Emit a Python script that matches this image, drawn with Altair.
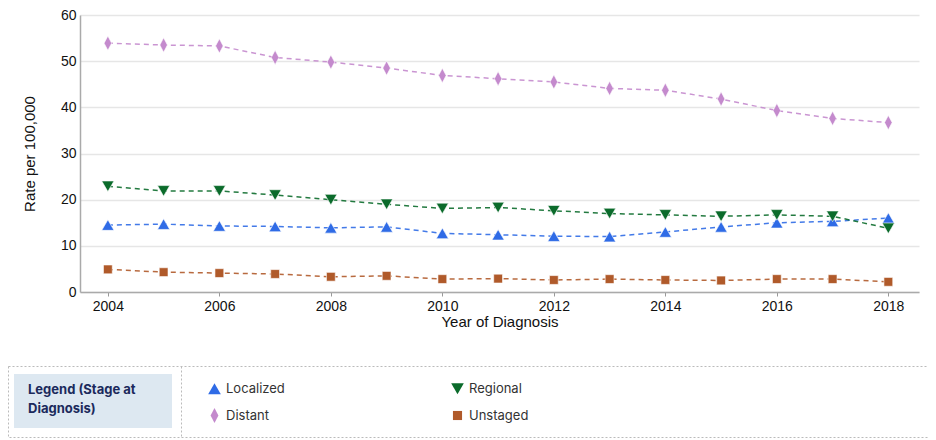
import altair as alt
import pandas as pd

years = list(range(2004, 2019))
localized = [14.5, 14.7, 14.3, 14.2, 13.9, 14.1, 12.7, 12.4, 12.1, 12.0, 13.0, 14.1, 15.0, 15.3, 16.0]
regional = [22.9, 21.9, 21.9, 21.0, 20.0, 19.0, 18.1, 18.3, 17.6, 17.0, 16.7, 16.4, 16.7, 16.4, 13.8]
distant = [53.9, 53.5, 53.3, 50.8, 49.8, 48.5, 46.9, 46.2, 45.5, 44.1, 43.7, 41.8, 39.3, 37.6, 36.7]
unstaged = [4.9, 4.3, 4.1, 3.9, 3.3, 3.5, 2.8, 2.9, 2.6, 2.8, 2.6, 2.5, 2.8, 2.8, 2.2]

# legend order (filled column by column): Localized, Distant | Regional, Unstaged
stages = ["Localized", "Distant", "Regional", "Unstaged"]
colors = ["#2f6be6", "#c48acd", "#0b6b2b", "#b05a2a"]
shapes = ["triangle-up", "M0,-1.17L0.62,0L0,1.17L-0.62,0Z", "triangle-down", "M-0.72,-0.72H0.72V0.72H-0.72Z"]
x_ticks = [2004, 2006, 2008, 2010, 2012, 2014, 2016, 2018]
y_ticks = [0, 10, 20, 30, 40, 50, 60]
legend_title = "Legend (Stage at\nDiagnosis)"

series = {"Localized": localized, "Regional": regional, "Distant": distant, "Unstaged": unstaged}
rows = []
for s in stages:
    for y, v in zip(years, series[s]):
        rows.append({"year": y, "rate": v, "stage": s})
df = pd.DataFrame(rows)

# plot area origin on the page: (80, 15)
OX, OY = 80, 15

xenc = alt.X("year:Q", scale=alt.Scale(domain=[2003.5, 2018.55], nice=False, zero=False),
             axis=alt.Axis(values=x_ticks, format="d", title="Year of Diagnosis", grid=False,
                           tickSize=4, tickColor="#999", domainColor="#aaa", domainWidth=1.5,
                           labelPadding=3, titlePadding=1))
yenc = alt.Y("rate:Q", scale=alt.Scale(domain=[0, 60], nice=False),
             axis=alt.Axis(values=y_ticks, title="Rate per 100,000", grid=True, gridColor="#e6e6e6",
                           gridWidth=1.5, tickSize=0, domainColor="#aaa", domainWidth=1.5,
                           labelPadding=4, titlePadding=23))

color_scale = alt.Scale(domain=stages, range=colors)
shape_scale = alt.Scale(domain=stages, range=shapes)

base = alt.Chart(df)

line_layers = [
    base.transform_filter(alt.datum.stage == s)
    .mark_line(strokeDash=[5, 4], strokeWidth=1.5, opacity=0.9, color=c)
    .encode(x=xenc, y=yenc)
    for s, c in zip(stages, colors)
]

points = base.mark_point(filled=True, size=150, opacity=1, stroke="white", strokeWidth=0.6).encode(
    x=xenc, y=yenc,
    color=alt.Color("stage:N", scale=color_scale, title=None),
    shape=alt.Shape("stage:N", scale=shape_scale, title=None),
)

one = alt.Chart(pd.DataFrame({"d": [0]}))
border = one.mark_rect(fill="white", fillOpacity=0, stroke="#bbb", strokeWidth=1, strokeDash=[2, 2]).encode(
    x=alt.value(8.5 - OX), x2=alt.value(928.5 - OX), y=alt.value(366.5 - OY), y2=alt.value(437.5 - OY))
box = one.mark_rect(fill="#dde8f1").encode(
    x=alt.value(14 - OX), x2=alt.value(172 - OX), y=alt.value(374 - OY), y2=alt.value(428 - OY))
divider = one.mark_rule(stroke="#bbb", strokeWidth=1, strokeDash=[2, 2]).encode(
    x=alt.value(181.5 - OX), y=alt.value(366.5 - OY), y2=alt.value(437.5 - OY))
title = one.mark_text(align="left", baseline="top", font="Inter", fontWeight="bold", fontSize=13,
                      color="#1b2a5c", lineBreak="\n", lineHeight=19).encode(
    x=alt.value(28 - OX), y=alt.value(384 - OY), text=alt.value(legend_title))

chart = alt.layer(border, box, divider, title, *line_layers, points).properties(
    width=839, height=277,
    autosize=alt.AutoSizeParams(type="none"),
    padding={"left": OX - 8, "top": OY - 8, "right": 9, "bottom": 148},
).configure_axis(
    labelFont="Liberation Sans", labelFontSize=14, labelColor="#111",
    titleFont="Liberation Sans", titleFontSize=15, titleFontWeight="normal", titleColor="#111",
).configure_legend(
    orient="none", legendX=213 - OX - 5, legendY=387 - OY - 5,
    columns=2, columnPadding=166, rowPadding=12, symbolSize=160,
    labelFont="Inter", labelFontSize=13, labelColor="#333",
    labelOffset=5, symbolStrokeWidth=0,
).configure_view(stroke=None)

chart.save("out.html", embed_options={"renderer": "svg", "actions": False})
